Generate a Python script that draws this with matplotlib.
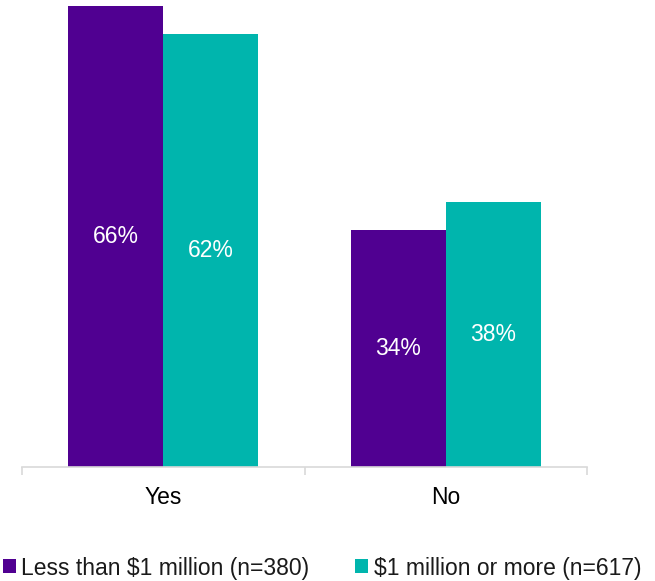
import numpy as np
import matplotlib.pyplot as plt

plt.rcParams['font.family'] = ['Liberation Sans', 'DejaVu Sans']

categories = ["Yes", "No"]
series_names = ["Less than $1 million (n=380)", "$1 million or more (n=617)"]
under_1m = [66, 34]
over_1m = [62, 38]
colors = ["#500091", "#00B5AD"]

fig = plt.figure(figsize=(6.55, 5.81), dpi=100)
ax = fig.add_axes([22 / 655, 1 - 467 / 581, 565 / 655, 467 / 581])

x = np.arange(len(categories))
w = 0.336
b1 = ax.bar(x - w / 2, under_1m, w, color=colors[0], label=series_names[0])
b2 = ax.bar(x + w / 2, over_1m, w, color=colors[1], label=series_names[1])

for bars, vals in ((b1, under_1m), (b2, over_1m)):
    for rect, v in zip(bars, vals):
        ax.text(rect.get_x() + rect.get_width() / 2, v / 2, f"{v}%",
                ha="center", va="center", color="white", fontsize=16.5)

ax.set_xlim(-0.5, 1.5)
ax.set_ylim(0, 66.9)
ax.set_yticks([])
for s in ("top", "right", "left"):
    ax.spines[s].set_visible(False)
ax.spines["bottom"].set_color("#D9D9D9")
ax.spines["bottom"].set_linewidth(1.2)

ax.set_xticks(x)
ax.set_xticklabels(categories, fontsize=16.5)
ax.tick_params(axis="x", which="major", length=0, pad=13.5)
ax.set_xticks([-0.5, 0.5, 1.5], minor=True)
ax.tick_params(axis="x", which="minor", length=6, color="#D9D9D9", width=1.2)

fig.legend(loc="center left", bbox_to_anchor=(3 / 655, 1 - 568 / 581), ncol=2,
           frameon=False, fontsize=16.5, handlelength=0.55, handleheight=0.55,
           handletextpad=0.25, columnspacing=2.0, borderpad=0, borderaxespad=0,
           labelcolor="#1A1A1A")

fig.savefig("out.png", dpi=100)
